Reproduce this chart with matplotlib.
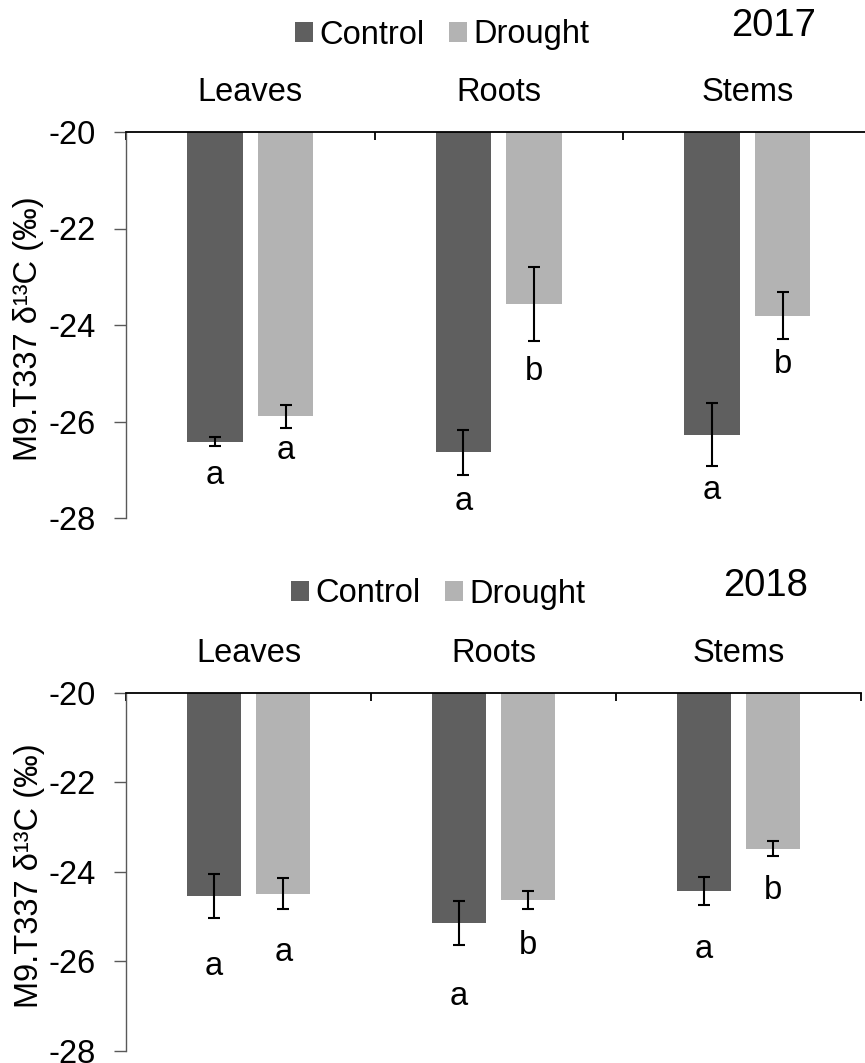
import numpy as np
import matplotlib
matplotlib.use('Agg')
import matplotlib.pyplot as plt

plt.rcParams['font.family'] = ['Liberation Sans', 'DejaVu Sans']
plt.rcParams['axes.unicode_minus'] = False

tissues = ['Leaves', 'Roots', 'Stems']
treatments = ['Control', 'Drought']

# mean d13C (per mil) and standard error, one value per tissue
control_2017 = [-26.42, -26.64, -26.27]
control_2017_se = [0.09, 0.46, 0.66]
drought_2017 = [-25.89, -23.56, -23.81]
drought_2017_se = [0.24, 0.77, 0.49]

control_2018 = [-24.54, -25.15, -24.43]
control_2018_se = [0.49, 0.49, 0.31]
drought_2018 = [-24.49, -24.62, -23.48]
drought_2018_se = [0.35, 0.20, 0.16]

# significance letters and the baseline they are written on
letters_control_2017 = ['a', 'a', 'a']
letters_drought_2017 = ['a', 'b', 'b']
letters_control_2018 = ['a', 'a', 'a']
letters_drought_2018 = ['a', 'b', 'b']
letter_y_control_2017 = [-27.30, -27.83, -27.61]
letter_y_drought_2017 = [-26.78, -25.13, -24.99]
letter_y_control_2018 = [-26.31, -26.98, -25.92]
letter_y_drought_2018 = [-25.99, -25.84, -24.60]

yticks = [-20, -22, -24, -26, -28]

col_control = '#5f5f5f'
col_drought = '#b3b3b3'
fs = 23.5
W, H = 865, 1063


def draw_panel(ax, year, ctrl, ctrl_se, drou, drou_se,
               let_c, let_d, ly_c, ly_d, legend_xy, year_xy):
    x = np.arange(len(tissues))
    off, width = 0.142, 0.222
    ebar = dict(ecolor='black', elinewidth=1.5, capsize=4.3, capthick=1.5)
    b1 = ax.bar(x - off, np.array(ctrl) + 20, width, bottom=-20, color=col_control,
                yerr=ctrl_se, error_kw=ebar, label=treatments[0], zorder=2)
    b2 = ax.bar(x + off, np.array(drou) + 20, width, bottom=-20, color=col_drought,
                yerr=drou_se, error_kw=ebar, label=treatments[1], zorder=2)

    for i in range(len(tissues)):
        ax.text(x[i] - off, ly_c[i], let_c[i], ha='center', va='baseline', fontsize=fs)
        ax.text(x[i] + off, ly_d[i], let_d[i], ha='center', va='baseline', fontsize=fs)

    ax.set_xlim(-0.5, 2.5)
    ax.set_ylim(-28, -20)
    ax.set_yticks(yticks)
    ax.set_yticklabels([str(t) for t in yticks])
    ax.tick_params(axis='y', direction='out', length=9, width=1, color='#595959',
                   labelsize=fs, pad=13)

    # categories along the top, with boundary ticks pointing down
    ax.xaxis.tick_top()
    ax.set_xticks(x)
    ax.set_xticklabels(tissues)
    ax.set_xticks(np.arange(-0.5, len(tissues)), minor=True)
    ax.tick_params(axis='x', which='major', length=0, labelsize=fs, pad=17)
    ax.tick_params(axis='x', which='minor', direction='in', length=6, width=1.3,
                   color='black', top=True, bottom=False)

    for s in ['bottom', 'right']:
        ax.spines[s].set_visible(False)
    ax.spines['top'].set_linewidth(1.3)
    ax.spines['top'].set_color('black')
    ax.spines['left'].set_linewidth(1)
    ax.spines['left'].set_color('#595959')

    ax.set_ylabel('M9.T337 δ¹³C (‰)', fontsize=fs)
    ax.yaxis.set_label_coords(-0.11, 0.49)

    ax.legend(handles=[b1, b2], loc='center', bbox_to_anchor=legend_xy,
              bbox_transform=ax.figure.transFigure, ncol=2, frameon=False,
              fontsize=fs, handlelength=0.55, handleheight=0.55,
              handletextpad=0.2, columnspacing=0.75, borderpad=0)
    ax.figure.text(year_xy[0], year_xy[1], year, ha='center', va='center', fontsize=27.5)


fig = plt.figure(figsize=(W / 100, H / 100), dpi=100)
ax1 = fig.add_axes([126 / W, 1 - 518 / H, 745.5 / W, 386 / H])
ax2 = fig.add_axes([126 / W, 1 - 1051 / H, 735 / W, 358.3 / H])

draw_panel(ax1, '2017', control_2017, control_2017_se, drought_2017, drought_2017_se,
           letters_control_2017, letters_drought_2017,
           letter_y_control_2017, letter_y_drought_2017,
           (442 / W, 1 - 35 / H), (774 / W, 1 - 26 / H))
draw_panel(ax2, '2018', control_2018, control_2018_se, drought_2018, drought_2018_se,
           letters_control_2018, letters_drought_2018,
           letter_y_control_2018, letter_y_drought_2018,
           (438 / W, 1 - 594 / H), (765.5 / W, 1 - 586 / H))

fig.savefig('out.png', dpi=100)
